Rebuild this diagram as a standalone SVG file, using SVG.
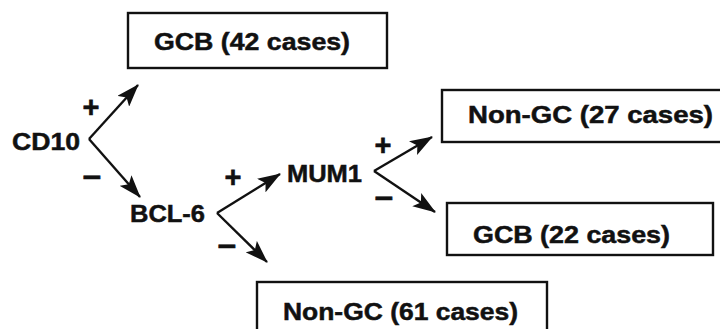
<svg xmlns="http://www.w3.org/2000/svg" width="720" height="329" viewBox="0 0 720 329">
<style>
.box{fill:#fff;stroke:#111;stroke-width:2.4}
.t{font-family:"Liberation Sans",Arial,sans-serif;font-weight:bold;font-size:24px;fill:#111;stroke:#111;stroke-width:0.5}
.s{font-family:"Liberation Sans",Arial,sans-serif;font-weight:bold;font-size:29px;fill:#111;stroke:#111;stroke-width:0.6}
.ln{stroke:#111;stroke-width:2.4;fill:none;marker-end:url(#ah)}
</style>
<defs>
<marker id="ah" markerUnits="userSpaceOnUse" markerWidth="23" markerHeight="16" refX="22" refY="8" orient="auto">
<path d="M0,0 L23,8 L0,16 L5,8 z" fill="#111"/>
</marker>
</defs>
<rect width="720" height="329" fill="#fff"/>
<g id="gcb42"><rect class="box" x="128" y="13" width="259" height="55"/><text class="t" x="154" y="50" textLength="196" lengthAdjust="spacingAndGlyphs">GCB (42 cases)</text></g>
<g id="cd10"><text class="t" x="12" y="150" textLength="68" lengthAdjust="spacingAndGlyphs">CD10</text></g>
<g id="mum1"><text class="t" x="287" y="182" textLength="75" lengthAdjust="spacingAndGlyphs">MUM1</text></g>
<g id="bcl6"><text class="t" x="130" y="222" textLength="75" lengthAdjust="spacingAndGlyphs">BCL-6</text></g>
<g id="nongc27"><rect class="box" x="442" y="90" width="300" height="52"/><text class="t" x="468" y="123" textLength="245" lengthAdjust="spacingAndGlyphs">Non-GC (27 cases)</text></g>
<g id="gcb22"><rect class="box" x="447" y="203" width="266" height="52"/><text class="t" x="473" y="243" textLength="197" lengthAdjust="spacingAndGlyphs">GCB (22 cases)</text></g>
<g id="nongc61"><rect class="box" x="257" y="282" width="290" height="60"/><text class="t" x="283" y="320" textLength="235" lengthAdjust="spacingAndGlyphs">Non-GC (61 cases)</text></g>
<g id="connectors">
<path class="ln" d="M89,139 L138,85"/>
<path class="ln" d="M89,139 L140,197"/>
<path class="ln" d="M217,213 L280,174"/>
<path class="ln" d="M217,213 L267,262"/>
<path class="ln" d="M374,171 L432,137"/>
<path class="ln" d="M374,171 L435,212"/>
</g>
<g id="signs">
<text class="s" x="91" y="117" text-anchor="middle">+</text>
<text class="s" x="92" y="187" text-anchor="middle" textLength="19" lengthAdjust="spacingAndGlyphs">−</text>
<text class="s" x="233" y="187" text-anchor="middle">+</text>
<text class="s" x="227" y="256" text-anchor="middle" textLength="19" lengthAdjust="spacingAndGlyphs">−</text>
<text class="s" x="383" y="155" text-anchor="middle">+</text>
<text class="s" x="384" y="208" text-anchor="middle" textLength="19" lengthAdjust="spacingAndGlyphs">−</text>
</g>
</svg>
